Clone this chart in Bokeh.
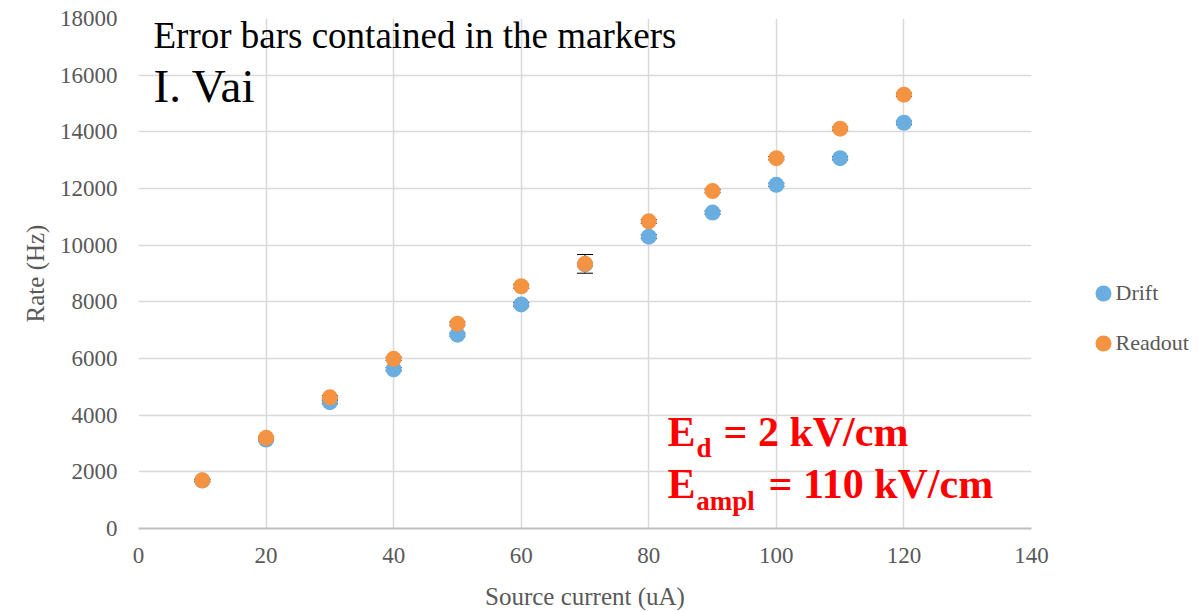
from bokeh.plotting import figure
from bokeh.layouts import row
from bokeh.models import (Range1d, FixedTicker, ColumnDataSource, Whisker, TeeHead,
                          Label, Legend, LegendItem)
from bokeh.embed import file_html
from bokeh.resources import INLINE

# Source current (uA)
current = [10, 20, 30, 40, 50, 60, 70, 80, 90, 100, 110, 120]
# Measured rates (Hz)
drift = [1690, 3140, 4460, 5620, 6840, 7910, 9320, 10300, 11150, 12130, 13070, 14320]
readout = [1700, 3200, 4630, 5990, 7230, 8550, 9340, 10840, 11910, 13070, 14110, 15310]
# Statistical uncertainties (Hz)
drift_err = [40, 50, 60, 60, 50, 70, 60, 70, 60, 60, 60, 60]
readout_err = [40, 50, 60, 60, 60, 70, 330, 70, 60, 60, 60, 60]

series_names = ["Drift", "Readout"]
x_ticks = [0, 20, 40, 60, 80, 100, 120, 140]
y_ticks = [0, 2000, 4000, 6000, 8000, 10000, 12000, 14000, 16000, 18000]

BLUE = "#6aade0"
ORANGE = "#f49342"
GREY_TXT = "#595959"
SERIF = "Liberation Serif"

p = figure(width=1060, height=612, output_backend="svg", toolbar_location=None,
           x_range=Range1d(0, 140), y_range=Range1d(0, 18000),
           min_border_left=138, min_border_right=29, min_border_top=18,
           min_border_bottom=84)
p.outline_line_color = None
p.background_fill_color = "white"
p.border_fill_color = "white"

for g in (p.xgrid, p.ygrid):
    g.grid_line_color = "#d9d9d9"
    g.grid_line_width = 1.5
p.xgrid.ticker = FixedTicker(ticks=x_ticks)
p.ygrid.ticker = FixedTicker(ticks=y_ticks)

p.xaxis.ticker = FixedTicker(ticks=x_ticks)
p.yaxis.ticker = FixedTicker(ticks=y_ticks)
for ax in (p.xaxis[0], p.yaxis[0]):
    ax.major_tick_line_color = None
    ax.minor_tick_line_color = None
    ax.major_label_text_font = SERIF
    ax.major_label_text_font_size = "23px"
    ax.major_label_text_color = GREY_TXT
    ax.axis_label_text_font = SERIF
    ax.axis_label_text_font_size = "25px"
    ax.axis_label_text_font_style = "normal"
    ax.axis_label_text_color = GREY_TXT
p.xaxis.axis_line_color = "#bfbfbf"
p.xaxis.axis_line_width = 2
p.yaxis.axis_line_color = None
p.xaxis.axis_label = "Source current (uA)"
p.yaxis.axis_label = "Rate (Hz)"
p.xaxis.major_label_standoff = 13
p.xaxis.axis_label_standoff = 17
p.yaxis.major_label_standoff = 15
p.yaxis.axis_label_standoff = 8

# Error bars (sit underneath the markers)
for vals, errs in ((drift, drift_err), (readout, readout_err)):
    src = ColumnDataSource(dict(
        x=current,
        lower=[v - e for v, e in zip(vals, errs)],
        upper=[v + e for v, e in zip(vals, errs)],
    ))
    w = Whisker(source=src, base="x", lower="lower", upper="upper",
                line_color="black", line_width=1,
                upper_head=TeeHead(size=16, line_color="black", line_width=1),
                lower_head=TeeHead(size=16, line_color="black", line_width=1))
    p.add_layout(w)

p.scatter(current, drift, size=16, fill_color=BLUE, line_color=None)
p.scatter(current, readout, size=16, fill_color=ORANGE, line_color=None)

# Annotations
def label(fig, x, y, text, size, color="black", bold=False, baseline="alphabetic"):
    fig.add_layout(Label(x=x, y=y, text=text, text_font=SERIF, text_font_size=size,
                         text_color=color, text_baseline=baseline,
                         text_font_style="bold" if bold else "normal"))

label(p, 2.35, 17389, "Error bars contained in the markers", "37px")
label(p, 2.35, 15625, "I. Vai", "47px")

RED = "#ff0000"
label(p, 82.93, 3409, "E", "42px", RED, True)
label(p, 87.48, 2824, "d", "27px", RED, True)
label(p, 91.71, 3409, "= 2 kV/cm", "42px", RED, True)
label(p, 82.93, 1560, "E", "42px", RED, True)
label(p, 87.45, 953, "ampl", "27px", RED, True)
label(p, 98.77, 1560, "= 110 kV/cm", "42px", RED, True)

# Legend panel on the right: swatches from a Legend, names as labels beside them
lg = figure(width=144, height=612, output_backend="svg", toolbar_location=None,
            x_range=Range1d(0, 144), y_range=Range1d(0, 510),
            min_border_left=0, min_border_right=0, min_border_top=0,
            min_border_bottom=0)
lg.axis.visible = False
lg.grid.visible = False
lg.outline_line_color = None
lg.border_fill_color = "white"
lg_drift = lg.scatter([-10], [-10], size=16, fill_color=BLUE, line_color=None)
lg_read = lg.scatter([-10], [-10], size=16, fill_color=ORANGE, line_color=None)
legend = Legend(items=[LegendItem(label="", renderers=[lg_drift]),
                       LegendItem(label="", renderers=[lg_read])],
                location=(23, 165), orientation="vertical",
                glyph_width=40, glyph_height=40, label_standoff=0,
                spacing=10, padding=0, margin=0,
                border_line_color=None, background_fill_alpha=0,
                label_height=20)
lg.add_layout(legend, "center")
label(lg, 55, 236, series_names[0], "22px", GREY_TXT, baseline="middle")
label(lg, 55, 186, series_names[1], "22px", GREY_TXT, baseline="middle")

open("out.html", "w").write(file_html(row(p, lg), INLINE))
